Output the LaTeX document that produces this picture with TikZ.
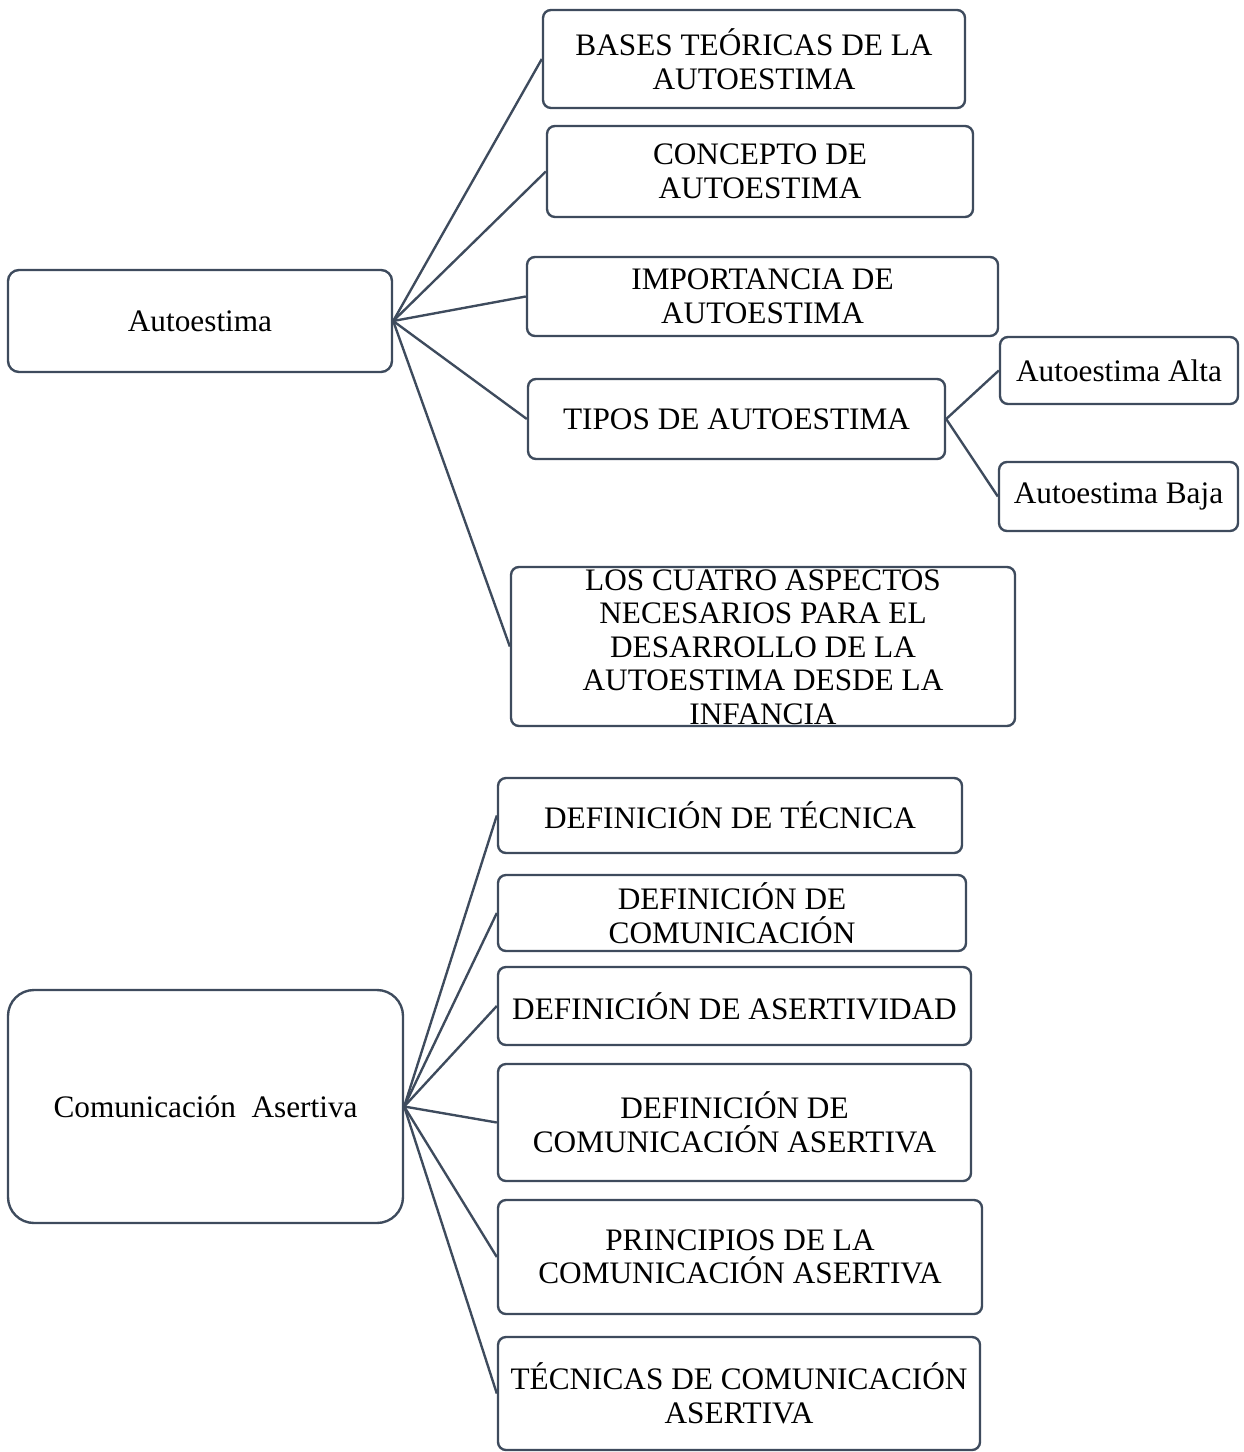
\documentclass[tikz,border=0pt]{standalone}
\usepackage{fontspec}
\setmainfont{Liberation Serif}
\definecolor{linea}{RGB}{62,75,93}
\tikzset{
  caja/.style={draw=linea, line width=1.35pt, rounded corners=0.16cm, fill=white,
    align=center, inner sep=0pt, font=\fontsize{17.8}{19.1}\selectfont},
  tam/.style 2 args={minimum width=#1*0.02cm, minimum height=#2*0.02cm},
  enlace/.style={draw=linea, line width=1.35pt}
}
\begin{document}
\begin{tikzpicture}[x=0.02cm,y=-0.02cm]
      \useasboundingbox (0,0) rectangle (1243,1452);
      % primera parte
      \node[caja, tam={384}{102}, rounded corners=0.22cm] (auto) at (200,321) {Autoestima};
      \node[caja, tam={422}{98}] (bases) at (754,59) {BASES TEÓRICAS DE LA\\AUTOESTIMA};
      \node[caja, tam={426}{91}] (concepto) at (760,171.5) {CONCEPTO DE\\AUTOESTIMA};
      \node[caja, tam={471}{79}] (importancia) at (762.5,296.5) {IMPORTANCIA DE\\AUTOESTIMA};
      \node[caja, tam={417}{80}] (tipos) at (736.5,419) {TIPOS DE AUTOESTIMA};
      \node[caja, tam={238}{67}] (alta) at (1119,370.5) {Autoestima Alta};
      \node[caja, tam={239}{69}] (baja) at (1118.5,496.5) {Autoestima Baja};
      \node[caja, tam={504}{159}] (cuatro) at (763,646.5) {};
      \node[align=center, inner sep=0pt, font=\fontsize{17.8}{19.1}\selectfont] (cuatrotxt) at (763,647) {LOS CUATRO ASPECTOS\\NECESARIOS PARA EL\\DESARROLLO DE LA\\AUTOESTIMA DESDE LA\\INFANCIA};
      \draw[enlace] (auto.east) -- (bases.west);
      \draw[enlace] (auto.east) -- (concepto.west);
      \draw[enlace] (auto.east) -- (importancia.west);
      \draw[enlace] (auto.east) -- (tipos.west);
      \draw[enlace] (auto.east) -- (cuatro.west);
      \draw[enlace] (tipos.east) -- (alta.west);
      \draw[enlace] (tipos.east) -- (baja.west);
      % segunda parte
      \node[caja, tam={395}{233}, rounded corners=0.52cm] (comu) at (205.5,1106.5) {Comunicación~ Asertiva};
      \node[caja, tam={464}{75}] (tecnica) at (730,815.5) {DEFINICIÓN DE TÉCNICA};
      \node[caja, tam={468}{76}] (comunicacion) at (732,913) {DEFINICIÓN DE\\COMUNICACIÓN};
      \node[caja, tam={473}{78}] (asertividad) at (734.5,1006) {DEFINICIÓN DE ASERTIVIDAD};
      \node[caja, tam={473}{117}] (comuaser) at (734.5,1122.5) {DEFINICIÓN DE\\COMUNICACIÓN ASERTIVA};
      \node[caja, tam={484}{114}] (principios) at (740,1257) {PRINCIPIOS DE LA\\COMUNICACIÓN ASERTIVA};
      \node[caja, tam={482}{113}] (tecnicas) at (739,1393.5) {TÉCNICAS DE COMUNICACIÓN\\ASERTIVA};
      \draw[enlace] (comu.east) -- (tecnica.west);
      \draw[enlace] (comu.east) -- (comunicacion.west);
      \draw[enlace] (comu.east) -- (asertividad.west);
      \draw[enlace] (comu.east) -- (comuaser.west);
      \draw[enlace] (comu.east) -- (principios.west);
      \draw[enlace] (comu.east) -- (tecnicas.west);
\end{tikzpicture}
\end{document}
